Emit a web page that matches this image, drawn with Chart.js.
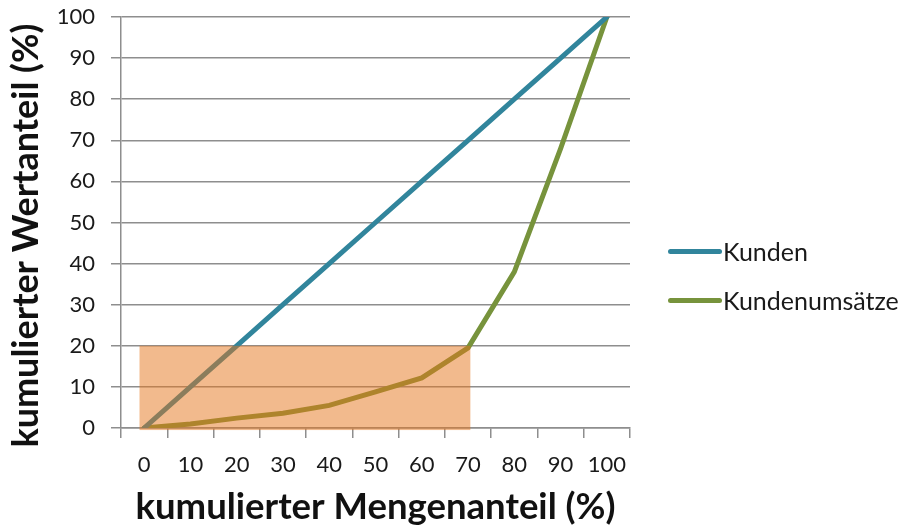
<!DOCTYPE html>
<html>
<head>
<meta charset="utf-8">
<script src="https://cdn.jsdelivr.net/npm/chart.js@4"></script>
<style>
  html, body { margin: 0; padding: 0; background: #fff; }
  #wrap { position: relative; width: 900px; height: 529px; }
  #legend { position: absolute; left: 668px; top: 236px; font-family: Lato, sans-serif; font-size: 25px; color: #1a1a1a; }
  .item { display: flex; align-items: center; height: 30px; margin-bottom: 19px; }
  .swatch { width: 54px; height: 5px; border-radius: 3px; margin-right: 1px; }
</style>
</head>
<body>
<div id="wrap">
  <canvas id="myChart" width="900" height="529"></canvas>
  <div id="legend"></div>
</div>
<script>
// kumulierte Anteile in %
let labelArray = ['0', '10', '20', '30', '40', '50', '60', '70', '80', '90', '100'];
let kundenWerte = [0, 10, 20, 30, 40, 50, 60, 70, 80, 90, 100];
let umsatzWerte = [0, 1, 2.4, 3.6, 5.5, 8.8, 12.2, 19.5, 38, 68, 100];
// markierter Bereich: Kategorie-Index von/bis, Wert von/bis
let boxX = [-0.1, 7.05];
let boxY = [-0.5, 20];

const seriesNames = ['Kunden', 'Kundenumsätze'];
const seriesColors = ['#31859c', '#77933c'];
const gridColor = '#8e8e8e';

const boxPlugin = {
    id: 'box',
    afterDatasetsDraw(chart) {
        const x = chart.scales.x, y = chart.scales.y, c = chart.ctx;
        const x0 = x.getPixelForValue(boxX[0]), x1 = x.getPixelForValue(boxX[1]);
        const y0 = y.getPixelForValue(boxY[0]), y1 = y.getPixelForValue(boxY[1]);
        c.save();
        c.fillStyle = 'rgba(229,118,28,0.5)';
        c.fillRect(x0, y1, x1 - x0, y0 - y1);
        c.restore();
    }
};

const ctx = document.getElementById('myChart').getContext('2d');
const myChart = new Chart(ctx, {
    type: 'line',
    data: {
        labels: labelArray,
        datasets: [
            {
                label: seriesNames[0],
                data: kundenWerte,
                borderColor: seriesColors[0],
                borderWidth: 5,
                borderCapStyle: 'round',
                pointRadius: 0,
                fill: false,
            },
            {
                label: seriesNames[1],
                data: umsatzWerte,
                borderColor: seriesColors[1],
                borderWidth: 5,
                borderCapStyle: 'round',
                pointRadius: 0,
                fill: false,
            },
        ]
    },
    options: {
        responsive: false,
        animation: false,
        layout: { padding: { top: 17, right: 270, left: 0, bottom: 0 } },
        plugins: {
            legend: { display: false },
            tooltip: { enabled: false }
        },
        scales: {
            x: {
                offset: true,
                grid: { offset: true, drawOnChartArea: false, color: gridColor, lineWidth: 1.5, tickLength: 10 },
                border: { color: gridColor, width: 1.5 },
                ticks: { color: '#1a1a1a', padding: 14, maxRotation: 0, font: { family: 'Lato', size: 22 } },
                title: { display: true, text: 'kumulierter Mengenanteil (%)', color: '#111', padding: { bottom: 0 },
                         font: { family: 'Lato', size: 36.5, weight: 'bold' } },
                afterFit(s) { s.height = 101; }
            },
            y: {
                min: 0,
                max: 100,
                ticks: { stepSize: 10, color: '#1a1a1a', padding: 16, font: { family: 'Lato', size: 22 } },
                grid: { color: gridColor, lineWidth: 1.5, tickLength: 10 },
                border: { color: gridColor, width: 1.5 },
                // trailing spaces push the title down a little, as in the original
                title: { display: true, text: 'kumulierter Wertanteil (%)\u00a0\u00a0\u00a0', color: '#111', padding: { top: 5 },
                         font: { family: 'Lato', size: 36, weight: 'bold' } },
                afterFit(s) { s.width = 121; s.paddingTop = 0; s.paddingBottom = 0; }
            }
        }
    },
    plugins: [boxPlugin]
});

const legend = document.getElementById('legend');
seriesNames.forEach((name, i) => {
    legend.innerHTML += '<div class="item"><span class="swatch" style="background:' + seriesColors[i] + '"></span>' + name + '</div>';
});
</script>
</body>
</html>
